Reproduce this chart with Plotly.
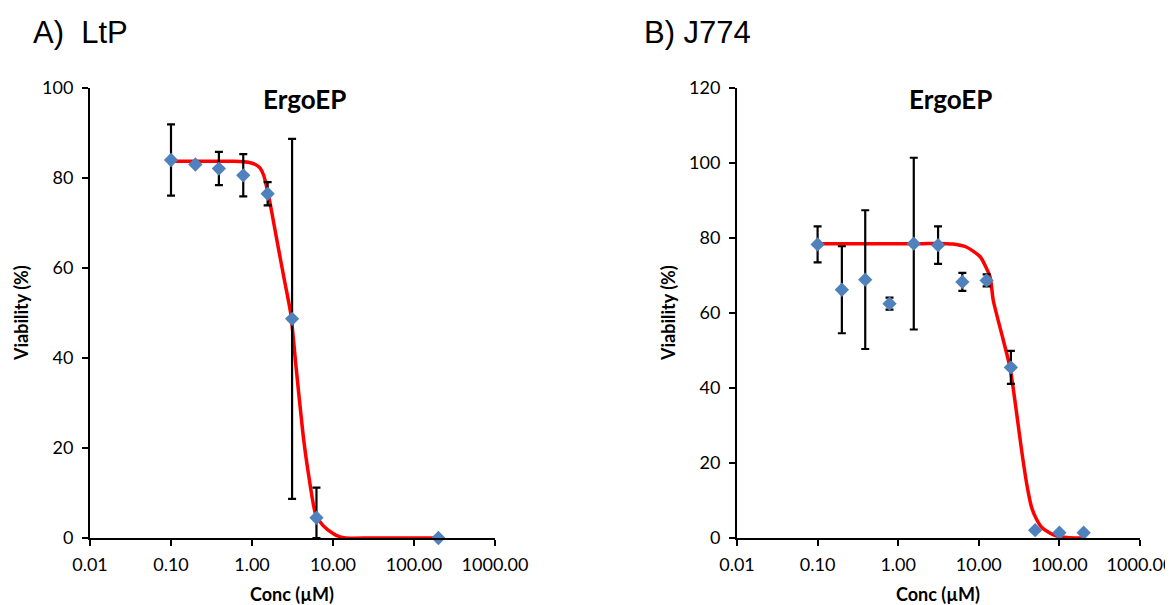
import plotly.graph_objects as go

# ---- data: panel A (LtP) ----
conc_a = [0.1, 0.2, 0.39, 0.78, 1.56, 3.125, 6.25, 200]
via_a = [84.0, 83.0, 82.1, 80.6, 76.5, 48.7, 4.5, 0.0]
err_a_plus = [7.9, 0.0, 3.7, 4.7, 2.6, 40.0, 6.7, 0.0]
err_a_minus = [7.9, 0.0, 3.7, 4.7, 2.6, 40.0, 4.5, 0.0]
fit_a_x = [0.1, 0.3, 0.6, 0.9, 1.1, 1.26, 1.4, 1.56, 1.75, 2.0, 2.5, 3.0, 3.5, 4.27, 5.0, 6.1, 7.5, 10.0, 12.0, 14.3, 30, 100, 200]
fit_a_y = [83.7, 83.7, 83.7, 83.5, 83.0, 82.2, 80.5, 77.0, 72.5, 66.8, 57.5, 50.0, 38.0, 23.0, 14.0, 5.3, 2.8, 1.0, 0.3, 0.0, 0.0, 0.0, 0.0]

# ---- data: panel B (J774) ----
conc_b = [0.1, 0.2, 0.39, 0.78, 1.56, 3.125, 6.25, 12.5, 25, 50, 100, 200]
via_b = [78.3, 66.2, 68.9, 62.5, 78.5, 78.1, 68.3, 68.7, 45.5, 2.1, 1.4, 1.4]
err_b = [4.8, 11.6, 18.5, 1.6, 22.9, 5.0, 2.4, 1.6, 4.4, 0.0, 0.0, 0.0]
fit_b_x = [0.1, 0.5, 1.0, 2.0, 4.0, 4.8, 7.0, 10.4, 13.8, 15.1, 20.0, 24.4, 30.0, 34.0, 40.0, 45.3, 52.0, 60.6, 75.0, 92.7, 130, 200]
fit_b_y = [78.5, 78.5, 78.5, 78.5, 78.5, 78.4, 77.6, 75.0, 69.6, 63.4, 53.0, 45.5, 32.0, 23.3, 13.5, 8.1, 5.0, 2.8, 1.4, 0.5, 0.1, 0.0]

xticks = [0.01, 0.1, 1, 10, 100, 1000]
xticklabels = ["0.01", "0.10", "1.00", "10.00", "100.00", "1000.00"]

# the page body has an 8px margin; the figure is sized to fill the rest of the window
OFF = 8
W, H = 1173 - OFF, 605 - OFF
TICKFONT = dict(family="Lato, Carlito, Calibri, sans-serif", size=18, color="black")
MARKER_COLOR = "#4F81BD"


def fx(px):
    return (px - OFF) / W


def fy(py):
    return 1 - (py - OFF) / H


fig = go.Figure()


def add_panel(lx, ly, cx, cy, eplus, eminus, xa, ya):
    fig.add_trace(go.Scatter(x=lx, y=ly, mode="lines", line=dict(color="#FF0000", width=3.5, shape="spline", smoothing=0.6),
                             xaxis=xa, yaxis=ya, showlegend=False, hoverinfo="skip", cliponaxis=False))
    fig.add_trace(go.Scatter(x=cx, y=cy, mode="markers",
                             marker=dict(symbol="diamond", size=11, color=MARKER_COLOR),
                             error_y=dict(type="data", array=eplus, arrayminus=eminus, color="black", thickness=2.2, width=4),
                             xaxis=xa, yaxis=ya, showlegend=False, cliponaxis=False))


add_panel(fit_a_x, fit_a_y, conc_a, via_a, err_a_plus, err_a_minus, "x", "y")
add_panel(fit_b_x, fit_b_y, conc_b, via_b, err_b, err_b, "x2", "y2")

ydom = [fy(538), fy(88)]
xcommon = dict(type="log", range=[-2, 3], tickvals=xticks, ticktext=xticklabels, automargin=False,
               ticklabeloverflow="allow", ticklabelstandoff=3,
               showline=True, linecolor="black", linewidth=2, ticks="outside", ticklen=6, tickwidth=2,
               tickcolor="black", showgrid=False, zeroline=False, tickfont=TICKFONT)
ycommon = dict(showline=True, linecolor="black", linewidth=2, ticks="outside", ticklen=6, tickwidth=2, automargin=False,
               ticklabelstandoff=5,
               tickcolor="black", showgrid=False, zeroline=False, tickfont=TICKFONT, dtick=20)

fig.update_layout(
    width=W, height=H, margin=dict(l=0, r=0, t=0, b=0),
    plot_bgcolor="white", paper_bgcolor="white",
    xaxis=dict(domain=[fx(90), fx(495)], anchor="y", **xcommon),
    yaxis=dict(domain=ydom, anchor="x", range=[0, 100], **ycommon),
    xaxis2=dict(domain=[fx(737), fx(1140)], anchor="y2", **xcommon),
    yaxis2=dict(domain=ydom, anchor="x2", range=[0, 120], **ycommon),
)


def px_ann(text, x, y, size, bold=False, family="Lato, Carlito, Calibri, sans-serif", angle=0, xanchor="center"):
    fig.add_annotation(text=(f"<b>{text}</b>" if bold else text), x=fx(x), y=fy(y), xref="paper", yref="paper",
                       showarrow=False, font=dict(family=family, size=size, color="black"),
                       textangle=angle, xanchor=xanchor, yanchor="middle")


# panel labels
px_ann("A)\u00a0 LtP", 31, 33, 31, family="Liberation Sans, Arial, sans-serif", xanchor="left")
px_ann("B) J774", 642, 33, 31, family="Liberation Sans, Arial, sans-serif", xanchor="left")
# chart titles
px_ann("ErgoEP", 304, 99, 26, bold=True)
px_ann("ErgoEP", 951, 99, 26, bold=True)
# axis titles
px_ann("Viability (%)", 21, 313, 18, bold=True, angle=-90)
px_ann("Viability (%)", 668, 313, 18, bold=True, angle=-90)
px_ann("Conc (µM)", 292, 594, 18, bold=True)
px_ann("Conc (µM)", 938, 594, 18, bold=True)

fig.write_html("out.html")
